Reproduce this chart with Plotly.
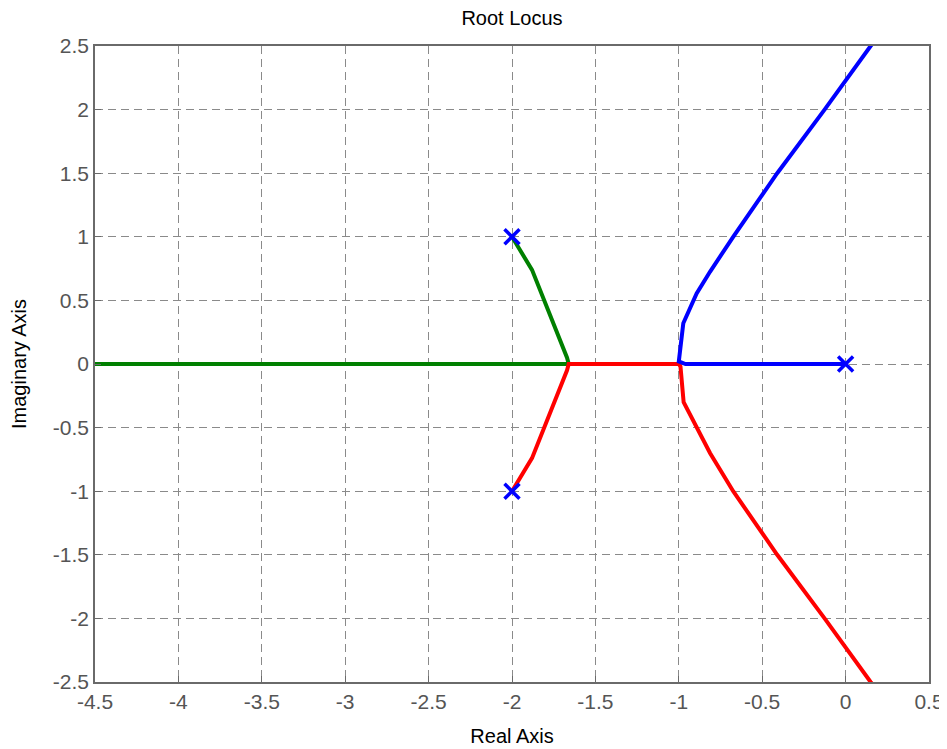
import plotly.graph_objects as go

# Root locus branches (real, imaginary)
green_re = [-2.0, -1.88, -1.67, -1.66, -5.0]
green_im = [1.0, 0.74, 0.05, 0.0, 0.0]

red_re = [-2.0, -1.88, -1.67, -1.66, -1.0, -0.99, -0.971, -0.883, -0.813, -0.674, -0.41, -0.126, 0.15, 0.30]
red_im = [-1.0, -0.74, -0.05, 0.0, 0.0, -0.02, -0.30, -0.52, -0.70, -1.0, -1.5, -2.0, -2.5, -2.75]

blue_re = [0.0, -0.96, -1.0, -0.973, -0.893, -0.813, -0.674, -0.41, -0.126, 0.15, 0.30]
blue_im = [0.0, 0.0, 0.02, 0.32, 0.555, 0.725, 1.0, 1.5, 2.0, 2.5, 2.75]

pole_re = [-2.0, -2.0, 0.0]
pole_im = [1.0, -1.0, 0.0]

x_ticks = [-4.5, -4, -3.5, -3, -2.5, -2, -1.5, -1, -0.5, 0, 0.5]
x_labels = ["-4.5", "-4", "-3.5", "-3", "-2.5", "-2", "-1.5", "-1", "-0.5", "0", "0.5"]
y_ticks = [-2.5, -2, -1.5, -1, -0.5, 0, 0.5, 1, 1.5, 2, 2.5]
y_labels = ["-2.5", "-2", "-1.5", "-1", "-0.5", "0", "0.5", "1", "1.5", "2", "2.5"]

FONT = "Liberation Sans, Arial, sans-serif"

# The page body has an 8px margin, so the figure is sized/offset to compensate
W, H = 939, 741

fig = go.Figure()
fig.add_trace(go.Scatter(x=green_re, y=green_im, mode="lines",
                         line=dict(color="#008000", width=4), showlegend=False))
fig.add_trace(go.Scatter(x=red_re, y=red_im, mode="lines",
                         line=dict(color="#ff0000", width=4), showlegend=False))
fig.add_trace(go.Scatter(x=blue_re, y=blue_im, mode="lines",
                         line=dict(color="#0000ff", width=4), showlegend=False))
fig.add_trace(go.Scatter(x=pole_re, y=pole_im, mode="markers",
                         marker=dict(symbol="x-thin", size=15,
                                     line=dict(color="#0000ff", width=3.5)),
                         showlegend=False))

axis_common = dict(
    showgrid=True, gridcolor="#8a8a8a", gridwidth=1, griddash="8px,5px",
    zeroline=False, showline=True, linecolor="#6a6a6a", linewidth=1.5, mirror=True,
    ticks="inside", ticklen=6, tickcolor="#6a6a6a", automargin=False,
    tickfont=dict(family=FONT, size=21, color="#555555"),
)

fig.update_layout(
    width=W, height=H,
    margin=dict(l=87, r=18, t=38, b=67),
    plot_bgcolor="white", paper_bgcolor="white",
    title=dict(text="Root Locus", x=0.5, xanchor="center", xref="paper",
               y=1 - 10 / H, yanchor="middle", yref="container",
               font=dict(family=FONT, size=20, color="#000000")),
    xaxis=dict(range=[-4.5, 0.5], tickvals=x_ticks, ticktext=x_labels,
               title=dict(text="Real Axis", standoff=17,
                          font=dict(family=FONT, size=20, color="#000000")),
               **axis_common),
    yaxis=dict(range=[-2.5, 2.5], tickvals=y_ticks, ticktext=y_labels,
               title=dict(text="Imaginary Axis", standoff=22,
                          font=dict(family=FONT, size=20, color="#000000")),
               **axis_common),
)

fig.write_html("out.html")
